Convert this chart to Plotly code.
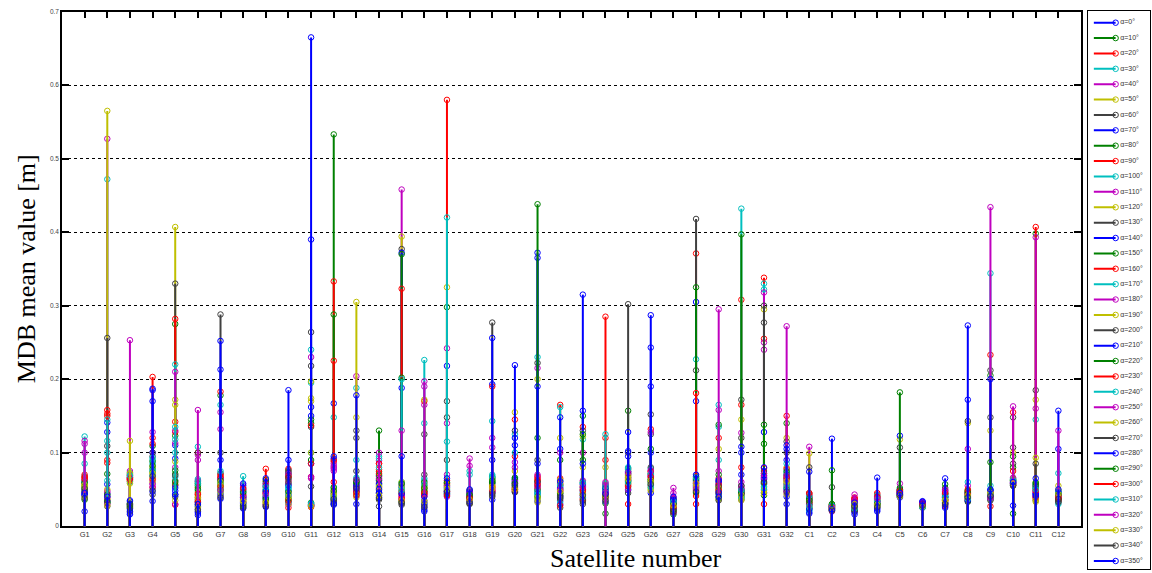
import plotly.graph_objects as go

# ---------------- data ----------------
satellites = ["G1", "G2", "G3", "G4", "G5", "G6", "G7", "G8", "G9", "G10", "G11", "G12",
              "G13", "G14", "G15", "G16", "G17", "G18", "G19", "G20", "G21", "G22", "G23",
              "G24", "G25", "G26", "G27", "G28", "G29", "G30", "G31", "G32",
              "C1", "C2", "C3", "C4", "C5", "C6", "C7", "C8", "C9", "C10", "C11", "C12"]

alphas = [0, 10, 20, 30, 40, 50, 60, 70, 80, 90, 100, 110, 120, 130, 140, 150, 160, 170,
          180, 190, 200, 210, 220, 230, 240, 250, 260, 270, 280, 290, 300, 310, 320, 330, 340, 350]

# MDB mean value [m] for each satellite, one entry per alpha (0..350 deg)
G1 = [0.043,0.055,0.062,0.068,0.058,0.052,0.047,0.041,0.060,0.066,0.050,0.063,0.057,0.049,0.044,0.053,0.070,0.061,0.100,0.054,0.046,0.042,0.059,0.064,0.085,0.112,0.056,0.051,0.020,0.036,0.067,0.122,0.116,0.040,0.038,0.045]
G2 = [0.044,0.071,0.153,0.100,0.048,0.036,0.041,0.057,0.032,0.090,0.116,0.046,0.038,0.109,0.034,0.043,0.150,0.062,0.039,0.050,0.027,0.128,0.033,0.086,0.472,0.527,0.565,0.256,0.141,0.031,0.158,0.145,0.030,0.028,0.035,0.040]
G3 = [0.030,0.065,0.070,0.073,0.068,0.062,0.024,0.018,0.027,0.066,0.071,0.064,0.069,0.020,0.033,0.025,0.061,0.067,0.075,0.072,0.028,0.022,0.031,0.063,0.060,0.066,0.058,0.026,0.016,0.029,0.064,0.069,0.253,0.116,0.030,0.035]
G4 = [0.034,0.078,0.053,0.090,0.062,0.071,0.043,0.100,0.109,0.112,0.085,0.058,0.066,0.095,0.185,0.074,0.120,0.069,0.053,0.081,0.100,0.047,0.088,0.203,0.076,0.128,0.060,0.049,0.170,0.082,0.064,0.093,0.057,0.072,0.068,0.187]
G5 = [0.110,0.123,0.142,0.100,0.113,0.172,0.062,0.092,0.071,0.057,0.067,0.080,0.407,0.330,0.048,0.275,0.282,0.220,0.210,0.165,0.055,0.043,0.076,0.128,0.118,0.130,0.088,0.069,0.052,0.060,0.029,0.135,0.030,0.035,0.040,0.043]
G6 = [0.027,0.060,0.043,0.064,0.052,0.053,0.036,0.020,0.058,0.100,0.048,0.062,0.041,0.032,0.015,0.055,0.039,0.057,0.090,0.046,0.034,0.023,0.050,0.044,0.108,0.097,0.038,0.100,0.018,0.029,0.033,0.061,0.158,0.025,0.022,0.030]
G7 = [0.065,0.058,0.070,0.052,0.061,0.048,0.072,0.044,0.055,0.068,0.047,0.063,0.057,0.041,0.037,0.050,0.066,0.059,0.132,0.053,0.100,0.090,0.178,0.183,0.165,0.155,0.046,0.288,0.213,0.062,0.054,0.075,0.049,0.060,0.039,0.252]
G8 = [0.036,0.041,0.045,0.052,0.050,0.038,0.027,0.031,0.047,0.033,0.055,0.043,0.029,0.040,0.024,0.037,0.049,0.044,0.056,0.034,0.030,0.039,0.028,0.042,0.048,0.053,0.035,0.026,0.032,0.046,0.051,0.068,0.039,0.033,0.025,0.058]
G9 = [0.045,0.050,0.038,0.060,0.028,0.042,0.033,0.055,0.047,0.061,0.036,0.030,0.052,0.040,0.026,0.058,0.044,0.049,0.035,0.031,0.054,0.039,0.063,0.046,0.041,0.057,0.034,0.029,0.048,0.037,0.078,0.053,0.043,0.032,0.027,0.065]
G10 = [0.048,0.064,0.078,0.057,0.057,0.039,0.076,0.032,0.070,0.025,0.052,0.044,0.061,0.072,0.041,0.034,0.067,0.050,0.029,0.045,0.074,0.055,0.037,0.068,0.043,0.062,0.030,0.059,0.090,0.047,0.035,0.053,0.071,0.040,0.066,0.185]
G11 = [0.027,0.030,0.067,0.100,0.029,0.100,0.028,0.085,0.032,0.026,0.031,0.067,0.174,0.135,0.150,0.145,0.028,0.195,0.029,0.170,0.218,0.162,0.140,0.137,0.240,0.230,0.197,0.264,0.390,0.090,0.085,0.030,0.065,0.027,0.054,0.665]
G12 = [0.045,0.030,0.088,0.052,0.082,0.040,0.035,0.092,0.533,0.333,0.148,0.078,0.047,0.038,0.167,0.288,0.225,0.043,0.085,0.050,0.033,0.029,0.053,0.090,0.041,0.075,0.044,0.036,0.031,0.048,0.060,0.039,0.080,0.042,0.037,0.095]
G13 = [0.050,0.062,0.045,0.058,0.041,0.055,0.048,0.030,0.064,0.052,0.043,0.057,0.039,0.075,0.047,0.060,0.054,0.066,0.049,0.044,0.120,0.056,0.061,0.046,0.188,0.204,0.148,0.130,0.053,0.059,0.042,0.090,0.063,0.305,0.051,0.178]
G14 = [0.062,0.074,0.053,0.095,0.067,0.067,0.045,0.039,0.058,0.085,0.070,0.060,0.048,0.027,0.044,0.063,0.077,0.055,0.089,0.051,0.036,0.057,0.069,0.072,0.092,0.065,0.054,0.041,0.046,0.130,0.085,0.080,0.100,0.042,0.038,0.050]
G15 = [0.053,0.034,0.043,0.060,0.458,0.394,0.377,0.372,0.370,0.323,0.048,0.038,0.060,0.031,0.056,0.045,0.040,0.052,0.036,0.050,0.033,0.188,0.202,0.047,0.200,0.041,0.055,0.029,0.044,0.058,0.037,0.049,0.130,0.035,0.032,0.095]
G16 = [0.030,0.055,0.048,0.062,0.044,0.058,0.035,0.022,0.051,0.041,0.065,0.046,0.053,0.028,0.025,0.060,0.043,0.057,0.165,0.049,0.070,0.032,0.047,0.170,0.140,0.190,0.172,0.125,0.020,0.052,0.045,0.226,0.197,0.033,0.026,0.040]
G17 = [0.052,0.045,0.058,0.041,0.070,0.049,0.055,0.043,0.060,0.047,0.053,0.040,0.056,0.090,0.048,0.044,0.062,0.050,0.140,0.057,0.148,0.046,0.059,0.042,0.115,0.242,0.325,0.170,0.218,0.298,0.580,0.420,0.054,0.051,0.047,0.065]
G18 = [0.040,0.035,0.044,0.048,0.037,0.031,0.042,0.046,0.033,0.039,0.045,0.036,0.041,0.030,0.047,0.038,0.034,0.043,0.082,0.032,0.049,0.037,0.044,0.040,0.070,0.046,0.035,0.039,0.033,0.042,0.038,0.075,0.092,0.036,0.031,0.050]
G19 = [0.058,0.065,0.048,0.070,0.052,0.061,0.044,0.036,0.067,0.055,0.063,0.049,0.057,0.040,0.046,0.060,0.053,0.068,0.050,0.064,0.042,0.090,0.059,0.047,0.066,0.107,0.054,0.045,0.193,0.062,0.190,0.143,0.120,0.051,0.277,0.256]
G20 = [0.055,0.060,0.048,0.065,0.052,0.058,0.046,0.063,0.050,0.057,0.062,0.049,0.054,0.047,0.059,0.064,0.051,0.056,0.061,0.075,0.053,0.110,0.066,0.145,0.125,0.080,0.155,0.130,0.120,0.058,0.095,0.100,0.087,0.050,0.056,0.219]
G21 = [0.045,0.060,0.052,0.038,0.066,0.041,0.055,0.034,0.048,0.062,0.044,0.058,0.036,0.050,0.085,0.040,0.068,0.047,0.054,0.032,0.061,0.365,0.120,0.057,0.230,0.215,0.200,0.222,0.372,0.438,0.064,0.043,0.070,0.039,0.090,0.190]
G22 = [0.040,0.055,0.048,0.062,0.035,0.058,0.044,0.030,0.051,0.065,0.038,0.060,0.046,0.025,0.053,0.042,0.057,0.033,0.049,0.063,0.037,0.061,0.045,0.028,0.056,0.050,0.120,0.041,0.105,0.090,0.165,0.162,0.100,0.047,0.039,0.148]
G23 = [0.045,0.052,0.038,0.058,0.041,0.055,0.033,0.049,0.060,0.036,0.047,0.054,0.043,0.030,0.057,0.090,0.050,0.039,0.062,0.044,0.035,0.157,0.150,0.135,0.118,0.100,0.122,0.130,0.315,0.125,0.048,0.059,0.053,0.080,0.042,0.085]
G24 = [0.048,0.055,0.042,0.058,0.036,0.051,0.045,0.033,0.050,0.040,0.057,0.044,0.038,0.053,0.047,0.031,0.090,0.049,0.056,0.041,0.035,0.052,0.043,0.120,0.054,0.046,0.080,0.039,0.044,0.017,0.285,0.125,0.060,None,None,None]
G25 = [0.062,0.075,0.055,0.080,0.068,0.058,0.072,0.049,0.066,0.078,0.052,0.070,0.060,0.045,0.074,0.063,0.057,0.079,0.050,0.067,0.071,0.095,0.061,0.054,0.077,0.065,0.069,0.100,0.102,0.157,0.030,0.059,0.073,0.064,0.302,0.128]
G26 = [0.060,0.072,0.055,0.078,0.066,0.050,0.070,0.045,0.063,0.075,0.058,0.068,0.052,0.080,0.100,0.061,0.074,0.056,0.069,0.048,0.125,0.190,0.064,0.132,0.071,0.128,0.059,0.152,0.243,0.105,0.067,0.053,0.076,0.062,0.057,0.287]
G27 = [0.030,0.025,0.035,0.020,0.038,0.028,0.033,0.018,0.031,0.024,0.036,0.027,0.022,0.034,0.029,0.016,0.032,0.026,0.039,0.021,0.037,0.023,0.030,0.019,0.034,0.045,0.027,0.031,0.036,0.022,0.025,0.033,0.052,0.028,0.020,0.040]
G28 = [0.055,0.062,0.048,0.067,0.058,0.044,0.060,0.052,0.065,0.041,0.057,0.063,0.050,0.068,0.054,0.046,0.030,0.061,0.056,0.049,0.212,0.170,0.064,0.371,0.227,0.059,0.053,0.418,0.305,0.325,0.181,0.066,0.051,0.058,0.047,0.070]
G29 = [0.050,0.060,0.045,0.055,0.062,0.048,0.040,0.057,0.052,0.065,0.043,0.058,0.053,0.047,0.061,0.038,0.056,0.090,0.075,0.051,0.044,0.063,0.070,0.049,0.135,0.158,0.105,0.054,0.046,0.138,0.120,0.165,0.295,0.036,0.035,0.040]
G30 = [0.045,0.040,0.050,0.038,0.047,0.042,0.055,0.036,0.049,0.044,0.041,0.052,0.037,0.046,0.043,0.048,0.165,0.039,0.051,0.035,0.120,0.070,0.044,0.308,0.432,0.127,0.145,0.172,0.100,0.397,0.080,0.049,0.060,0.042,0.055,0.108]
G31 = [0.065,0.058,0.072,0.050,0.240,0.061,0.277,0.046,0.069,0.255,0.322,0.250,0.054,0.075,0.063,0.042,0.338,0.330,0.318,0.295,0.300,0.067,0.112,0.030,0.057,0.071,0.048,0.060,0.128,0.138,0.079,0.052,0.066,0.044,0.059,0.080]
G32 = [0.050,0.065,0.058,0.072,0.045,0.080,0.062,0.040,0.068,0.055,0.076,0.048,0.060,0.070,0.030,0.052,0.078,0.057,0.064,0.043,0.100,0.090,0.074,0.066,0.053,0.069,0.120,0.115,0.105,0.140,0.150,0.085,0.272,0.061,0.047,0.110]
C1 = [0.030,0.025,0.040,0.022,0.035,0.028,0.045,0.019,0.033,0.038,0.026,0.042,0.031,0.024,0.036,0.029,0.043,0.021,0.034,0.027,0.039,0.023,0.037,0.032,0.041,0.029,0.034,0.032,0.017,0.035,0.045,0.027,0.108,0.099,0.080,0.074]
C2 = [0.026,0.024,0.029,0.022,0.027,0.025,0.030,0.021,0.028,0.023,0.026,0.024,0.029,0.027,0.022,0.025,0.028,0.024,0.026,0.029,0.023,0.027,0.030,0.025,0.028,0.026,0.024,0.053,0.119,0.076,0.022,0.021,0.020,0.022,0.021,0.023]
C3 = [0.025,0.030,0.035,0.028,0.038,0.022,0.033,0.019,0.027,0.036,0.031,0.024,0.029,0.021,0.034,0.026,0.037,0.023,0.032,0.028,0.020,0.030,0.025,0.039,0.027,0.035,0.031,0.022,0.016,0.029,0.026,0.024,0.043,0.030,0.027,0.032]
C4 = [0.030,0.035,0.043,0.040,0.030,0.035,0.025,0.020,0.033,0.038,0.028,0.036,0.031,0.027,0.034,0.029,0.041,0.032,0.037,0.026,0.039,0.024,0.030,0.045,0.042,0.033,0.036,0.028,0.022,0.031,0.040,0.035,0.038,0.029,0.026,0.066]
C5 = [0.042,0.048,0.045,0.050,0.040,0.047,0.043,0.049,0.041,0.046,0.044,0.048,0.042,0.050,0.039,0.047,0.045,0.043,0.049,0.041,0.046,0.044,0.052,0.048,0.042,0.058,0.118,0.107,0.123,0.182,0.043,0.041,0.044,0.040,0.042,0.045]
C6 = [0.030,0.028,0.031,0.027,0.029,0.032,0.026,0.033,0.028,0.030,0.027,0.031,0.029,0.025,0.032,0.028,0.030,0.026,0.031,0.029,0.027,0.033,0.028,0.030,0.026,0.032,0.029,0.027,0.031,0.028,0.030,0.026,0.029,0.027,0.028,0.034]
C7 = [0.040,0.045,0.035,0.042,0.030,0.038,0.044,0.028,0.048,0.033,0.041,0.036,0.046,0.031,0.039,0.043,0.027,0.037,0.049,0.034,0.040,0.032,0.052,0.036,0.044,0.047,0.035,0.030,0.025,0.057,0.045,0.039,0.050,0.035,0.030,0.065]
C8 = [0.040,0.046,0.035,0.043,0.038,0.048,0.033,0.041,0.044,0.037,0.049,0.036,0.042,0.039,0.045,0.034,0.047,0.040,0.043,0.038,0.046,0.035,0.041,0.044,0.037,0.055,0.140,0.143,0.172,0.048,0.050,0.060,0.105,0.042,0.039,0.273]
C9 = [0.042,0.038,0.045,0.048,0.040,0.036,0.044,0.047,0.039,0.043,0.037,0.046,0.041,0.035,0.049,0.040,0.044,0.055,0.038,0.046,0.212,0.042,0.205,0.233,0.344,0.434,0.130,0.148,0.200,0.087,0.027,0.043,0.039,0.045,0.041,0.050]
C10 = [0.058,0.062,0.056,0.064,0.060,0.057,0.063,0.059,0.055,0.061,0.065,0.058,0.062,0.085,0.060,0.017,0.056,0.063,0.059,0.064,0.107,0.057,0.080,0.075,0.061,0.066,0.100,0.148,0.028,0.095,0.155,0.062,0.163,0.058,0.055,0.060]
C11 = [0.045,0.052,0.038,0.056,0.042,0.060,0.035,0.049,0.054,0.040,0.058,0.046,0.033,0.051,0.044,0.057,0.039,0.053,0.047,0.036,0.055,0.043,0.059,0.048,0.145,0.160,0.172,0.185,0.041,0.398,0.407,0.050,0.393,0.093,0.085,0.065]
C12 = [0.040,0.045,0.035,0.048,0.038,0.043,0.032,0.047,0.041,0.036,0.044,0.039,0.049,0.034,0.046,0.037,0.042,0.030,0.045,0.040,0.033,0.105,0.044,0.038,0.046,0.041,0.055,0.036,0.157,0.043,0.039,0.072,0.130,0.044,0.037,0.050]

sat_values = [G1, G2, G3, G4, G5, G6, G7, G8, G9, G10, G11, G12, G13, G14, G15, G16,
              G17, G18, G19, G20, G21, G22, G23, G24, G25, G26, G27, G28, G29, G30, G31, G32,
              C1, C2, C3, C4, C5, C6, C7, C8, C9, C10, C11, C12]

# classic MATLAB colour order
color_cycle = ["rgb(0,0,255)", "rgb(0,128,0)", "rgb(255,0,0)", "rgb(0,191,191)",
               "rgb(191,0,191)", "rgb(191,191,0)", "rgb(64,64,64)"]

# ---------------- figure ----------------
fig = go.Figure()

for i, a in enumerate(alphas):
    col = color_cycle[i % len(color_cycle)]
    sx, sy, mx, my = [], [], [], []
    for k in range(len(satellites)):
        v = sat_values[k][i]
        if v is None:
            continue
        sx += [k + 1, k + 1, None]
        sy += [0, v, None]
        mx.append(k + 1)
        my.append(v)
    fig.add_trace(go.Scatter(x=sx, y=sy, mode="lines", line=dict(color=col, width=2),
                             showlegend=False, hoverinfo="skip", xaxis="x", yaxis="y"))
    fig.add_trace(go.Scatter(x=mx, y=my, mode="markers", name="α=%d°" % a,
                             marker=dict(symbol="circle-open", size=5.5, color=col,
                                         line=dict(width=1, color=col)),
                             showlegend=False, xaxis="x", yaxis="y"))

# ---- hand-built legend in its own small axes ----
leg_line_x0, leg_line_x1, leg_text_x = 6.2, 28.0, 32.5
for i, a in enumerate(alphas):
    col = color_cycle[i % len(color_cycle)]
    fig.add_trace(go.Scatter(x=[leg_line_x0, leg_line_x1], y=[i, i], mode="lines",
                             line=dict(color=col, width=2), showlegend=False,
                             hoverinfo="skip", xaxis="x2", yaxis="y2"))
fig.add_trace(go.Scatter(x=[leg_line_x1] * len(alphas), y=list(range(len(alphas))),
                         mode="markers",
                         marker=dict(symbol="circle-open", size=5.5,
                                     color=[color_cycle[i % 7] for i in range(len(alphas))],
                                     line=dict(width=1)),
                         showlegend=False, hoverinfo="skip", xaxis="x2", yaxis="y2"))
fig.add_trace(go.Scatter(x=[leg_text_x] * len(alphas), y=list(range(len(alphas))),
                         mode="text", text=["α=%d°" % a for a in alphas],
                         textposition="middle right", cliponaxis=False,
                         textfont=dict(family="Liberation Sans", size=7, color="#333"),
                         showlegend=False, hoverinfo="skip", xaxis="x2", yaxis="y2"))

fig.update_layout(
    width=1152, height=573,
    margin=dict(l=62, r=1, t=11, b=2),
    paper_bgcolor="white", plot_bgcolor="white",
    showlegend=False,
    xaxis=dict(domain=[0, 0.9366], range=[0, len(satellites) + 1],
               tickmode="array", tickvals=list(range(1, len(satellites) + 1)),
               ticktext=satellites, ticks="inside", ticklen=7, tickwidth=1.5,
               tickcolor="black", showline=True, linecolor="black", linewidth=1.5,
               mirror="ticks", showgrid=False, zeroline=False, layer="below traces",
               tickfont=dict(family="Liberation Sans", size=7.5, color="#333"),
               anchor="y"),
    yaxis=dict(domain=[0.0768, 0.9988], range=[0, 0.7], dtick=0.1, tick0=0,
               ticks="inside", ticklen=7, tickwidth=1.5, tickcolor="black",
               showline=True, linecolor="black", linewidth=1.5, mirror="ticks",
               showgrid=True, gridcolor="black", griddash="dot", gridwidth=1.3,
               zeroline=False,
               tickfont=dict(family="Liberation Sans", size=6.5, color="#444"),
               anchor="x"),
    xaxis2=dict(domain=[0.9427, 1.0], range=[0, 62.4], showline=True, mirror=True,
                linecolor="black", linewidth=1, showticklabels=False, ticks="",
                showgrid=False, zeroline=False, anchor="y2", fixedrange=True),
    yaxis2=dict(domain=[0, 1], range=[35.52, -0.76], showline=True, mirror=True,
                linecolor="black", linewidth=1, showticklabels=False, ticks="",
                showgrid=False, zeroline=False, anchor="x2", fixedrange=True),
    annotations=[
        dict(text="MDB mean value [m]", xref="paper", yref="paper",
             x=-0.033, y=0.5375, xanchor="center", yanchor="middle", textangle=-90,
             showarrow=False, font=dict(family="Liberation Serif", size=26, color="black")),
        dict(text="Satellite number", xref="paper", yref="paper",
             x=0.5271, y=-0.010, xanchor="center", yanchor="bottom",
             showarrow=False, font=dict(family="Liberation Serif", size=26, color="black")),
    ],
)

fig.write_html("out.html", config={"displayModeBar": False},
               post_script="document.body.style.margin='0px';document.body.style.overflow='hidden';")
